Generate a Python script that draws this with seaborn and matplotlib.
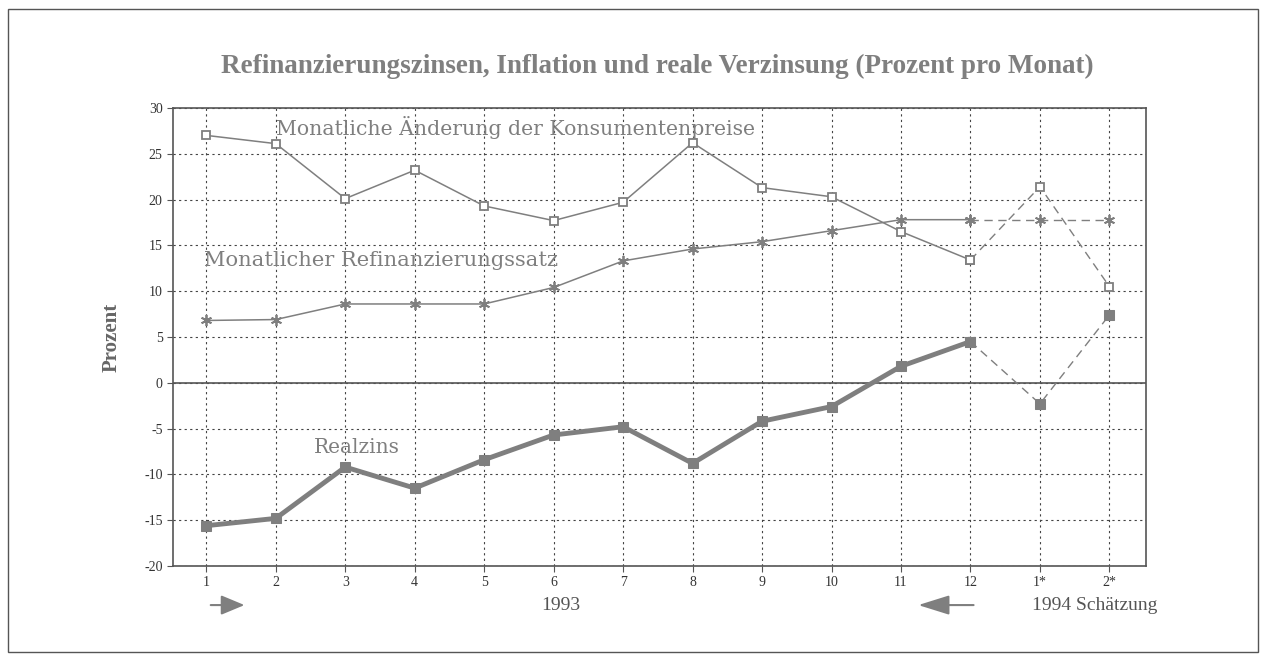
import numpy as np
import matplotlib
matplotlib.use("Agg")
import matplotlib.pyplot as plt
import seaborn as sns
import pandas as pd
from matplotlib.patches import Rectangle, FancyArrowPatch

# months 1993 plus 1994 forecast
months = ["1", "2", "3", "4", "5", "6", "7", "8", "9", "10", "11", "12", "1*", "2*"]
consumer_prices = [27.0, 26.1, 20.1, 23.2, 19.3, 17.7, 19.7, 26.2, 21.3, 20.3, 16.5, 13.4, 21.4, 10.5]
refi_rate = [6.8, 6.9, 8.6, 8.6, 8.6, 10.4, 13.3, 14.6, 15.4, 16.6, 17.8, 17.8, 17.8, 17.8]
real_rate = [-15.6, -14.8, -9.2, -11.5, -8.4, -5.7, -4.8, -8.8, -4.2, -2.6, 1.8, 4.5, -2.3, 7.4]
n_actual = 12  # last index of 1993 values

sns.set_style("white")
plt.rcParams["font.family"] = ["Liberation Serif", "DejaVu Serif"]
plt.rcParams["axes.unicode_minus"] = False

grey = "#7f7f7f"
dark = "#555555"

df = pd.DataFrame({
    "pos": np.arange(1, len(months) + 1),
    "cpi": consumer_prices,
    "refi": refi_rate,
    "real": real_rate,
})
actual = df.iloc[:n_actual]
forecast = df.iloc[n_actual - 1:]

fig = plt.figure(figsize=(12.68, 6.62), dpi=100)
ax = fig.add_axes([0.1364, 0.145, 0.767, 0.692])

series = [
    ("cpi", dict(marker="s", markersize=6, markerfacecolor="white", markeredgecolor=grey,
                 markeredgewidth=1.3, linewidth=1.1)),
    ("refi", dict(marker=(6, 2, 0), markersize=8, markeredgecolor=grey,
                  markeredgewidth=1.3, linewidth=1.1)),
    ("real", dict(marker="s", markersize=7, markerfacecolor=grey, markeredgecolor=grey,
                  linewidth=3.5)),
]
for col, style in series:
    sns.lineplot(data=actual, x="pos", y=col, color=grey, ax=ax, **style)
    sns.lineplot(data=forecast, x="pos", y=col, color=grey, ax=ax,
                 linestyle=(0, (6, 4)), **{**style, "linewidth": 1.0})

ax.axhline(0, color=dark, linewidth=1.2, zorder=1)

ax.set_xlim(0.52, 14.52)
ax.set_ylim(-20, 30)
ax.set_yticks(np.arange(-20, 31, 5))
ax.set_xticks(df["pos"])
ax.set_xticklabels(months)
ax.grid(True, color="#444444", linestyle=(0, (2, 3)), linewidth=0.8)
ax.tick_params(axis="both", labelsize=10, labelcolor="#333333", color=dark,
               length=4, direction="out", left=True, bottom=True)
for sp in ax.spines.values():
    sp.set_color(dark)
    sp.set_linewidth(1.2)
ax.set_xlabel("")
ax.set_ylabel("Prozent", fontsize=15, color="#666666", fontweight="bold", labelpad=16)

label_font = ["DejaVu Serif"]
ax.text(2.0, 27.9, "Monatliche Änderung der Konsumentenpreise", fontsize=14.7,
        color=grey, va="center", ha="left", family=label_font)
ax.text(0.96, 13.3, "Monatlicher Refinanzierungssatz", fontsize=15.1,
        color=grey, va="center", ha="left", family=label_font)
ax.text(3.17, -7.1, "Realzins", fontsize=14.5, color=grey, va="center", ha="center",
        family=label_font)

fig.text(0.518, 0.9, "Refinanzierungszinsen, Inflation und reale Verzinsung (Prozent pro Monat)",
         fontsize=19.5, fontweight="bold", color=grey, ha="center", va="center")

fig.text(0.442, 0.086, "1993", fontsize=14, color=dark, ha="center", va="center")
fig.text(0.863, 0.086, "1994 Schätzung", fontsize=14, color=dark, ha="center", va="center")
fig.add_artist(FancyArrowPatch(
    (0.164, 0.086), (0.195, 0.086), transform=fig.transFigure,
    arrowstyle="-|>,head_length=1.2,head_width=0.5", mutation_scale=12,
    color=grey, linewidth=1.5))
fig.add_artist(FancyArrowPatch(
    (0.77, 0.086), (0.722, 0.086), transform=fig.transFigure,
    arrowstyle="-|>,head_length=1.6,head_width=0.5", mutation_scale=12,
    color=grey, linewidth=1.5))

fig.add_artist(Rectangle((0.0063, 0.015), 0.9857, 0.972, transform=fig.transFigure,
                         fill=False, edgecolor=dark, linewidth=1.0))

fig.savefig("out.png", dpi=100, facecolor="white")
